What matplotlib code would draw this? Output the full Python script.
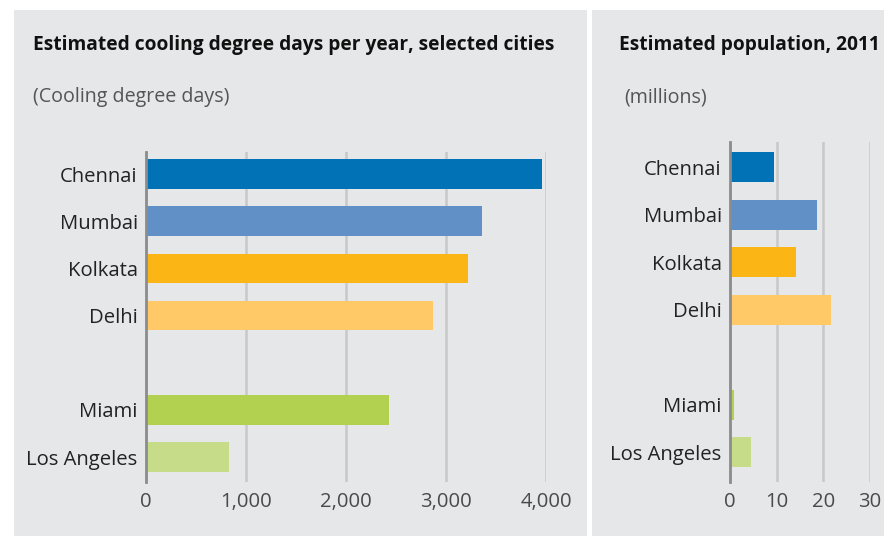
import matplotlib
matplotlib.use("Agg")
import matplotlib.pyplot as plt
from matplotlib.patches import Rectangle

plt.rcParams['font.family'] = ['Open Sans', 'DejaVu Sans']

cities = ["Chennai", "Mumbai", "Kolkata", "Delhi", "", "Miami", "Los Angeles"]
cdd = [3960, 3360, 3220, 2870, None, 2430, 830]
population = [9.4, 18.6, 14.1, 21.6, None, 0.9, 4.6]
colors = ["#0072b5", "#6190c6", "#fbb616", "#fec966", None, "#b2d150", "#c6dc88"]
cdd_ticks = [0, 1000, 2000, 3000, 4000]
cdd_ticklabels = ["0", "1,000", "2,000", "3,000", "4,000"]
pop_ticks = [0, 10, 20, 30]
pop_ticklabels = ["0", "10", "20", "30"]

W, H = 884, 536
fig = plt.figure(figsize=(W / 100, H / 100), dpi=100)
fig.patch.set_facecolor("white")
BG = "#e6e7e8"
FS = 13.8
LFS = 14.6

def px(x0, y0, x1, y1):
    return [x0 / W, 1 - y1 / H, (x1 - x0) / W, (y1 - y0) / H]

fig.patches.append(Rectangle((14 / W, 0), (587 - 14) / W, 1 - 10 / H, transform=fig.transFigure,
                             facecolor=BG, edgecolor="none", zorder=-5))
fig.patches.append(Rectangle((592 / W, 0), (W - 592) / W, 1 - 10 / H, transform=fig.transFigure,
                             facecolor=BG, edgecolor="none", zorder=-5))

def panel(rect, values, xlim, ticks, ticklabels, ylim):
    ax = fig.add_axes(rect)
    ax.set_facecolor("none")
    idx = [i for i, v in enumerate(values) if v is not None]
    ax.barh(idx, [values[i] for i in idx], height=0.63,
            color=[colors[i] for i in idx], zorder=3)
    ax.set_xlim(*xlim)
    ax.set_ylim(*ylim)
    ax.set_yticks(idx)
    ax.set_yticklabels([cities[i] for i in idx], fontsize=LFS, color="#222222")
    ax.set_xticks(ticks)
    ax.set_xticklabels(ticklabels, fontsize=LFS, color="#4a4a4a")
    ax.tick_params(axis="both", length=0)
    ax.tick_params(axis="y", pad=6)
    ax.tick_params(axis="x", pad=7)
    for s in ["top", "right", "bottom"]:
        ax.spines[s].set_visible(False)
    ax.spines["left"].set_color("#8c8c8c")
    ax.spines["left"].set_linewidth(2)
    ax.spines["left"].set_zorder(4)
    for t in ticks[1:]:
        ax.axvline(t, color="#c8c8c8", lw=1.8, zorder=1)
    return ax

panel(px(146, 152, 546, 482), cdd, (0, 4000), cdd_ticks, cdd_ticklabels, (6.53, -0.47))
panel(px(730, 142, 870, 482), population, (0, 30), pop_ticks, pop_ticklabels, (6.63, -0.53))

fig.text(33 / W, 1 - 45 / H, "Estimated cooling degree days per year, selected cities",
         fontsize=FS, fontweight="bold", color="#111111", va="center", ha="left")
fig.text(33 / W, 1 - 97 / H, "(Cooling degree days)", fontsize=FS + 0.3, color="#555555",
         va="center", ha="left")
fig.text(619 / W, 1 - 45 / H, "Estimated population, 2011",
         fontsize=FS, fontweight="bold", color="#111111", va="center", ha="left")
fig.text(624 / W, 1 - 97 / H, "(millions)", fontsize=FS + 0.3, color="#555555",
         va="center", ha="left")

fig.savefig("out.png", dpi=100, facecolor="white")
